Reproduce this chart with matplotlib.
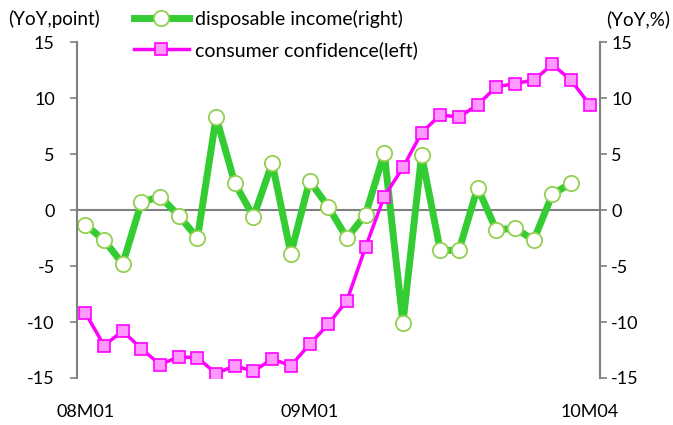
import numpy as np
import matplotlib
matplotlib.use("Agg")
import matplotlib.pyplot as plt

plt.rcParams['font.family'] = ['Lato', 'DejaVu Sans']
plt.rcParams['axes.unicode_minus'] = False

months = ["08M01", "08M02", "08M03", "08M04", "08M05", "08M06", "08M07", "08M08",
          "08M09", "08M10", "08M11", "08M12", "09M01", "09M02", "09M03", "09M04",
          "09M05", "09M06", "09M07", "09M08", "09M09", "09M10", "09M11", "09M12",
          "10M01", "10M02", "10M03", "10M04"]
tick_labels = {"08M01", "09M01", "10M04"}

# consumer confidence, YoY points (left axis)
confidence = [-9.2, -12.1, -10.8, -12.4, -13.8, -13.1, -13.2, -14.6,
              -13.9, -14.4, -13.3, -13.9, -12.0, -10.2, -8.1, -3.3,
              1.2, 3.8, 6.9, 8.5, 8.3, 9.4, 11.0, 11.3,
              11.6, 13.0, 11.6, 9.4]
# disposable income, YoY % (right axis)
income = [-1.3, -2.7, -4.8, 0.7, 1.2, -0.5, -2.5, 8.3,
          2.4, -0.6, 4.2, -3.9, 2.6, 0.3, -2.5, -0.4,
          5.1, -10.1, 4.9, -3.6, -3.6, 2.0, -1.8, -1.6,
          -2.7, 1.4, 2.4]

fig = plt.figure(figsize=(6.73, 4.25), dpi=100)
ax = fig.add_axes([0.1144, 0.1106, 0.7771, 0.7904])
ax2 = ax.twinx()
ax.set_zorder(ax2.get_zorder() + 1)
ax.patch.set_visible(False)

x = np.arange(len(months))
gray = "#808080"

ax2.axhline(0, color=gray, lw=1.5, zorder=1)
l1, = ax2.plot(x[:len(income)], income, color="#33CC33", lw=5,
               marker="o", ms=11, mfc="white", mec="#92D050", mew=1.3,
               label="disposable income(right)", zorder=3)
l2, = ax.plot(x, confidence, color="#FF00FF", lw=2.5,
              marker="s", ms=8, mfc="#FF99FF", mec="#FF00FF", mew=1.2,
              label="consumer confidence(left)", zorder=4)

for a in (ax, ax2):
    a.set_ylim(-15, 15)
    a.set_yticks([-15, -10, -5, 0, 5, 10, 15])
    a.set_xlim(-0.45, len(months) - 0.45)
    for s in ("top", "bottom"):
        a.spines[s].set_visible(False)
    a.spines["left"].set_color(gray)
    a.spines["right"].set_color(gray)
    a.spines["left"].set_linewidth(1.5)
    a.spines["right"].set_linewidth(1.5)
    a.tick_params(axis="y", colors=gray, width=1.2, length=5, labelsize=13,
                  labelcolor="black")

ax.spines["right"].set_visible(False)
ax2.spines["left"].set_visible(False)
ax.tick_params(axis="y", pad=11)
ax2.tick_params(axis="y", pad=3)

ax.set_xticks(x)
ax.set_xticklabels([m if m in tick_labels else "" for m in months], fontsize=13)
ax.tick_params(axis="x", length=0, pad=19)

fig.text(0.012, 0.955, "(YoY,point)", fontsize=13.5, ha="left", va="center")
fig.text(0.995, 0.955, "(YoY,%)", fontsize=13.5, ha="right", va="center")

fig.legend(handles=[l1, l2], loc="upper left", bbox_to_anchor=(0.185, 1.0),
           frameon=False, fontsize=14, handlelength=2.8, handletextpad=0.3,
           labelspacing=0.7, borderaxespad=0.1)

fig.savefig("out.png", dpi=100)
